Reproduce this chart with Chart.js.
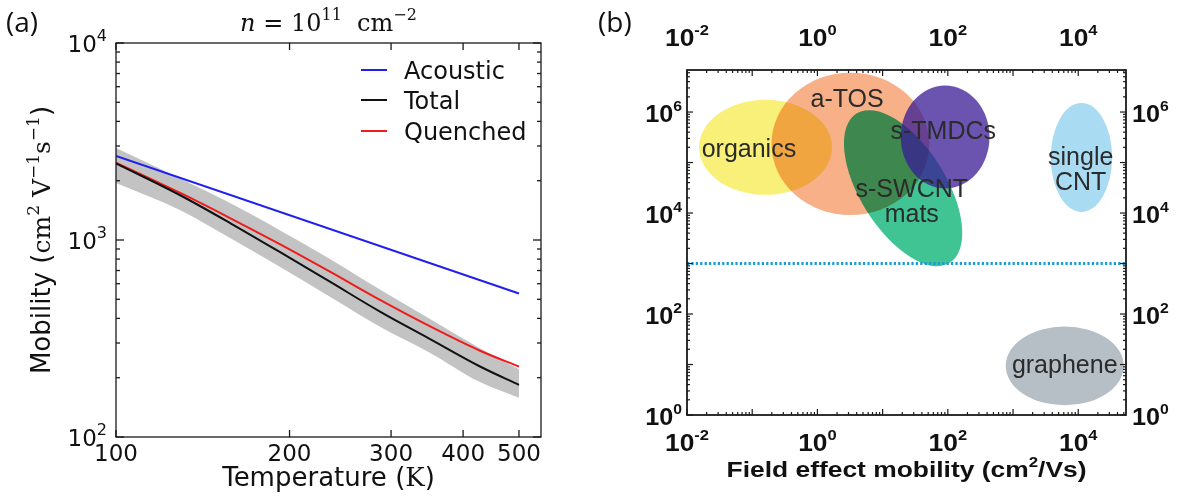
<!DOCTYPE html>
<html>
<head>
<meta charset="utf-8">
<title>Mobility panels</title>
<script src="https://cdn.jsdelivr.net/npm/chart.js@4.4.1/dist/chart.umd.min.js"></script>
<style>
  html, body { margin: 0; padding: 0; background: #fff; }
  #wrap { position: relative; width: 1177px; height: 497px; overflow: hidden; }
  .panel { position: absolute; top: 0; height: 497px; }
  #panelA { left: 0; width: 588px; }
  #panelB { left: 588px; width: 589px; }
</style>
</head>
<body>
<div id="wrap">
  <div class="panel" id="panelA"><canvas id="chartA"></canvas></div>
  <div class="panel" id="panelB"><canvas id="chartB"></canvas></div>
</div>
<script>
/* ── (a) mobility vs temperature ── */
const tempK      = [100, 129, 158, 192, 235, 287, 350, 428, 500];
const totalMu    = [2450, 1692, 1216, 872, 614, 433, 315, 228, 184];
const quenchedMu = [2470, 1738, 1289, 955, 690, 496, 365, 274, 228];
const bandUpper  = [2930, 2056, 1535, 1124, 800, 560, 398, 282, 221];
const bandLower  = [1945, 1420, 1020, 733, 515, 363, 268, 190, 158];
const acousticT  = [100, 500];
const acousticMu = [2670, 535];
const tempTicks  = [100, 200, 300, 400, 500];
const muTicks    = [100, 1000, 10000];

/* ── (b) on/off ratio vs field effect mobility ── */
const classNames     = ['organics', 'a-TOS', 's-SWCNT\nmats', 's-TMDCs', 'single\nCNT', 'graphene'];
const centerMobility = [0.16, 3.2, 20.6, 91, 11200, 6200];
const centerRatio    = [2.0e5, 2.34e5, 3.1e4, 3.2e5, 1.26e5, 9.4];
const halfMobility   = [1.02, 1.21, 1.35, 0.68, 0.47, 0.905];   // decades
const halfRatio      = [0.94, 1.41, 0.85, 1.02, 1.08, 0.78];    // decades
const tiltDeg        = [0, 0, 58, 0, 0, 0];
const labelMobility  = [0.089, 2.85, 28, 85, 10900, 6200];
const labelRatio     = [1.85e5, 1.8e6, 1.67e4, 4.2e5, 7.4e4, 9.8];
const thresholdX     = [1e-2, 5.4e4];
const thresholdY     = [1e3, 1e3];
const mobilityTicks  = [1e-2, 1e0, 1e2, 1e4];
const ratioTicks     = [1e0, 1e2, 1e4, 1e6];

/* ── styles ── */
const SANS = "'DejaVu Sans', sans-serif";
const SERIF = "'DejaVu Serif', serif";
const ARIAL = "'Liberation Sans', Arial, sans-serif";
const BLOB_FILL  = ['#f7ed60', '#f7b088', '#40c493', '#381b96', '#a9dcf2', '#b6bec6'];
const BLOB_ALPHA = [0.85, 1, 1, 0.75, 1, 1];
const BLOB_MODE  = ['source-over', 'multiply', 'multiply', 'source-over', 'source-over', 'source-over'];

const pts = (xs, ys) => xs.map((v, i) => ({ x: v, y: ys[i] }));

function decadeTicks(min, max) {
    const out = [];
    for (let e = Math.floor(Math.log10(min)); e <= Math.ceil(Math.log10(max)); e++) {
        for (let m = 1; m <= 9; m++) {
            const v = m * Math.pow(10, e);
            if (v >= min * 0.999 && v <= max * 1.001) out.push({ v, major: m === 1 });
        }
    }
    return out;
}

function seg(ctx, x1, y1, x2, y2) {
    ctx.beginPath(); ctx.moveTo(x1, y1); ctx.lineTo(x2, y2); ctx.stroke();
}

// pieces: [text, font, rise]
function write(ctx, pieces, x, y, opts = {}) {
    ctx.save();
    ctx.translate(x, y);
    if (opts.rot) ctx.rotate(opts.rot);
    if (opts.sx) ctx.scale(opts.sx, 1);
    let total = 0;
    const widths = pieces.map(p => { ctx.font = p[1]; const w = ctx.measureText(p[0]).width; total += w; return w; });
    let cur = opts.align === 'right' ? -total : opts.align === 'left' ? 0 : -total / 2;
    ctx.textAlign = 'left';
    ctx.textBaseline = 'alphabetic';
    ctx.fillStyle = opts.color || '#111';
    pieces.forEach((p, i) => { ctx.font = p[1]; ctx.fillText(p[0], cur, -(p[2] || 0)); cur += widths[i]; });
    ctx.restore();
}

/* ══════════ PANEL (a) ══════════ */
const panelAPlugin = {
    id: 'panelA',
    afterDraw(chart) {
        const { ctx, chartArea: a, scales: { x, y } } = chart;
        ctx.save();
        ctx.strokeStyle = '#1a1a1a';
        ctx.lineWidth = 1.3;
        ctx.strokeRect(a.left, a.top, a.right - a.left, a.bottom - a.top);

        decadeTicks(y.min, y.max).forEach(t => {
            const py = y.getPixelForValue(t.v);
            const len = t.major ? 8 : 4;
            seg(ctx, a.left, py, a.left + len, py);
            seg(ctx, a.right, py, a.right - len, py);
        });
        tempTicks.forEach(v => {
            const px = x.getPixelForValue(v);
            seg(ctx, px, a.bottom, px, a.bottom - 7);
            seg(ctx, px, a.top, px, a.top + 7);
            write(ctx, [[String(v), `23px ${SANS}`]], px, a.bottom + 24);
        });
        muTicks.forEach(v => {
            const py = y.getPixelForValue(v);
            write(ctx, [['10', `23px ${SANS}`], [String(Math.round(Math.log10(v))), `16px ${SANS}`, 11]],
                a.left - 9, py + 9, { align: 'right' });
        });

        // titles
        write(ctx, [['n', `italic 24px ${SERIF}`], [' = 10', `24px ${SERIF}`], ['11', `16px ${SERIF}`, 11],
            ['  cm', `24px ${SERIF}`], ['\u22122', `16px ${SERIF}`, 11]], (a.left + a.right) / 2, 31);
        write(ctx, [['Temperature (', `26px ${SANS}`], ['K', `26px ${SERIF}`], [')', `26px ${SANS}`]],
            (a.left + a.right) / 2, 486);
        write(ctx, [['Mobility (', `26px ${SANS}`], ['cm', `25px ${SERIF}`], ['2', `17px ${SERIF}`, 11],
            [' V', `25px ${SERIF}`], ['\u22121', `17px ${SERIF}`, 11], ['s', `25px ${SERIF}`],
            ['\u22121', `17px ${SERIF}`, 11], [')', `26px ${SANS}`]], 50, (a.top + a.bottom) / 2, { rot: -Math.PI / 2 });

        // legend
        const rows = [70, 100, 131];
        chart.data.datasets.slice(0, 3).forEach((ds, i) => {
            ctx.strokeStyle = ds.borderColor;
            ctx.lineWidth = 2;
            seg(ctx, 361, rows[i], 387, rows[i]);
            write(ctx, [[ds.label, `24px ${SANS}`]], 404, rows[i] + 9, { align: 'left' });
        });

        write(ctx, [['(a)', `28px 'Open Sans', sans-serif`]], 6, 32, { align: 'left' });
        ctx.restore();
    }
};

new Chart(document.getElementById('chartA'), {
    type: 'line',
    data: {
        datasets: [
            { label: 'Acoustic', data: pts(acousticT, acousticMu), borderColor: '#1f1ff0', borderWidth: 2, pointRadius: 0, fill: false },
            { label: 'Total', data: pts(tempK, totalMu), borderColor: '#111111', borderWidth: 2, pointRadius: 0, fill: false, cubicInterpolationMode: 'monotone' },
            { label: 'Quenched', data: pts(tempK, quenchedMu), borderColor: '#ee1c1c', borderWidth: 2, pointRadius: 0, fill: false, cubicInterpolationMode: 'monotone' },
            { label: 'spread', data: pts(tempK, bandUpper), borderWidth: 0, pointRadius: 0, backgroundColor: '#c3c3c3', fill: '+1', cubicInterpolationMode: 'monotone' },
            { label: 'spread low', data: pts(tempK, bandLower), borderWidth: 0, pointRadius: 0, fill: false, cubicInterpolationMode: 'monotone' }
        ]
    },
    options: {
        responsive: true,
        maintainAspectRatio: false,
        animation: false,
        layout: { padding: { left: 116, right: 47, top: 43, bottom: 60 } },
        plugins: { legend: { display: false }, tooltip: { enabled: false } },
        scales: {
            x: { type: 'logarithmic', min: 100, max: 546, display: false },
            y: { type: 'logarithmic', min: 100, max: 10000, display: false }
        }
    },
    plugins: [panelAPlugin]
});

/* ══════════ PANEL (b) ══════════ */
const panelBPlugin = {
    id: 'panelB',
    beforeDatasetsDraw(chart) {
        const { ctx, chartArea: a, scales: { x, y } } = chart;
        ctx.save();
        ctx.beginPath();
        ctx.rect(a.left, a.top, a.right - a.left, a.bottom - a.top);
        ctx.clip();
        classNames.forEach((name, i) => {
            const cx = x.getPixelForValue(centerMobility[i]);
            const cy = y.getPixelForValue(centerRatio[i]);
            const rx = x.getPixelForValue(centerMobility[i] * Math.pow(10, halfMobility[i])) - cx;
            const ry = cy - y.getPixelForValue(centerRatio[i] * Math.pow(10, halfRatio[i]));
            ctx.globalAlpha = BLOB_ALPHA[i];
            ctx.globalCompositeOperation = BLOB_MODE[i];
            ctx.fillStyle = BLOB_FILL[i];
            ctx.beginPath();
            ctx.ellipse(cx, cy, rx, ry, tiltDeg[i] * Math.PI / 180, 0, Math.PI * 2);
            ctx.fill();
        });
        ctx.restore();
    },
    afterDatasetsDraw(chart) {
        const { ctx, scales: { x, y } } = chart;
        classNames.forEach((name, i) => {
            const lines = name.split('\n');
            const px = x.getPixelForValue(labelMobility[i]);
            const py = y.getPixelForValue(labelRatio[i]);
            const step = 25;
            lines.forEach((ln, k) => {
                const ly = py + (k - (lines.length - 1) / 2) * step + 8;
                write(ctx, [[ln, `25px ${ARIAL}`]], px, ly, { color: '#2b2b2b' });
            });
        });
    },
    afterDraw(chart) {
        const { ctx, chartArea: a, scales: { x, y } } = chart;
        ctx.save();
        ctx.strokeStyle = '#1a1a1a';
        ctx.lineWidth = 1.8;
        ctx.strokeRect(a.left, a.top, a.right - a.left, a.bottom - a.top);
        ctx.lineWidth = 1.2;
        decadeTicks(x.min, x.max).forEach(t => {
            const px = x.getPixelForValue(t.v);
            const len = t.major ? 6 : 3;
            seg(ctx, px, a.bottom, px, a.bottom - len);
            seg(ctx, px, a.top, px, a.top + len);
        });
        decadeTicks(y.min, y.max).forEach(t => {
            const py = y.getPixelForValue(t.v);
            const len = t.major ? 6 : 3;
            seg(ctx, a.left, py, a.left + len, py);
            seg(ctx, a.right, py, a.right - len, py);
        });

        const base = `bold 24px ${ARIAL}`;
        const sup = `bold 15px ${ARIAL}`;
        mobilityTicks.forEach(v => {
            const px = x.getPixelForValue(v);
            const e = String(Math.round(Math.log10(v)));
            write(ctx, [['10', base], [e, sup, 11]], px, 451, { sx: 1.1 });
            write(ctx, [['10', base], [e, sup, 11]], px, 46, { sx: 1.1 });
        });
        ratioTicks.forEach(v => {
            const py = y.getPixelForValue(v);
            const e = String(Math.round(Math.log10(v)));
            write(ctx, [['10', base], [e, sup, 11]], a.left - 5, py + 10, { align: 'right', sx: 1.05 });
            write(ctx, [['10', base], [e, sup, 11]], a.right + 6, py + 10, { align: 'left', sx: 1.05 });
        });

        write(ctx, [['Field effect mobility (cm', `bold 22px ${ARIAL}`], ['2', `bold 14px ${ARIAL}`, 10],
            ['/Vs)', `bold 22px ${ARIAL}`]], (a.left + a.right) / 2, 477, { sx: 1.2 });
        write(ctx, [['Current on/off ratio', `bold 23px ${ARIAL}`]], 625, 256, { rot: -Math.PI / 2, sx: 1.25 });

        write(ctx, [['(b)', `28px 'Open Sans', sans-serif`]], 10, 32, { align: 'left' });
        ctx.restore();
    }
};

new Chart(document.getElementById('chartB'), {
    type: 'line',
    data: {
        datasets: [
            {
                label: 'threshold',
                data: pts(thresholdX, thresholdY),
                borderColor: '#1a9bd7',
                borderWidth: 3,
                borderDash: [2.2, 2.2],
                pointRadius: 0,
                fill: false
            }
        ]
    },
    options: {
        responsive: true,
        maintainAspectRatio: false,
        animation: false,
        layout: { padding: { left: 99, right: 51, top: 70, bottom: 82 } },
        plugins: { legend: { display: false }, tooltip: { enabled: false } },
        scales: {
            x: { type: 'logarithmic', min: 1e-2, max: 5.4e4, display: false },
            y: { type: 'logarithmic', min: 1, max: 6.8e6, display: false }
        }
    },
    plugins: [panelBPlugin]
});
</script>
</body>
</html>
